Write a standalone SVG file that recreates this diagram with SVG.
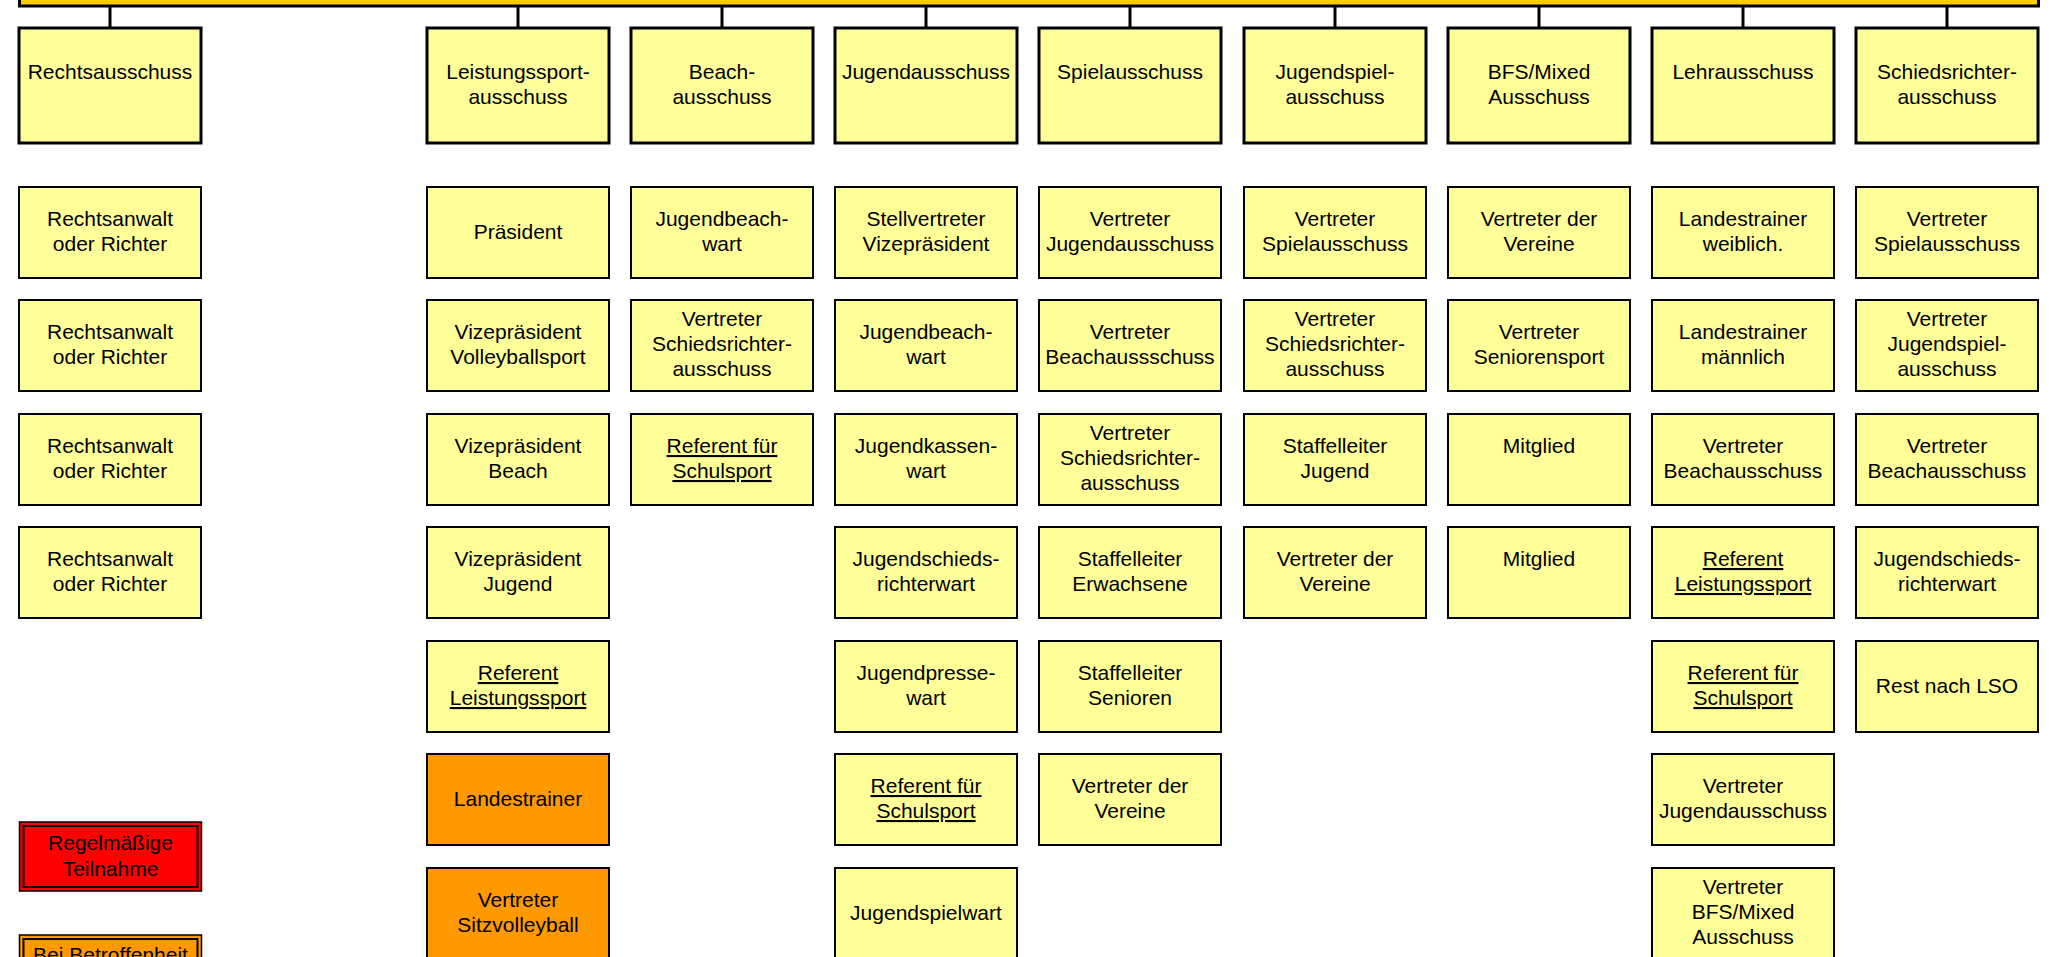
<svg xmlns="http://www.w3.org/2000/svg" width="2062" height="957" viewBox="0 0 2062 957">
<style>
  text { font-family: "Liberation Sans", Arial, sans-serif; font-size: 21px; fill: #000; text-anchor: middle; }
  .hdr { fill: #FFFF99; stroke: #000; stroke-width: 3; }
  .box { fill: #FFFF99; stroke: #000; stroke-width: 2; }
  .org { fill: #FF9900; stroke: #000; stroke-width: 2; }
  .u { text-decoration: underline; }
  .con { stroke: #000; stroke-width: 3; fill: none; }
</style>
<rect width="2062" height="957" fill="#FFFFFF"/>

<g id="top-bar">
  <rect x="19.5" y="-60" width="2019" height="66" fill="#FFCC00" stroke="#000" stroke-width="3"/>
</g>

<g id="connectors">
  <line class="con" x1="110" y1="7" x2="110" y2="28"/>
  <line class="con" x1="518" y1="7" x2="518" y2="28"/>
  <line class="con" x1="722" y1="7" x2="722" y2="28"/>
  <line class="con" x1="926" y1="7" x2="926" y2="28"/>
  <line class="con" x1="1130" y1="7" x2="1130" y2="28"/>
  <line class="con" x1="1335" y1="7" x2="1335" y2="28"/>
  <line class="con" x1="1539" y1="7" x2="1539" y2="28"/>
  <line class="con" x1="1743" y1="7" x2="1743" y2="28"/>
  <line class="con" x1="1947" y1="7" x2="1947" y2="28"/>
</g>

<!-- Header row -->
<g id="h-recht"><rect class="hdr" x="19" y="28" width="182" height="115"/><text x="110" y="79">Rechtsausschuss</text></g>
<g id="h-leistung"><rect class="hdr" x="427" y="28" width="182" height="115"/><text x="518" y="79">Leistungssport-</text><text x="518" y="104">ausschuss</text></g>
<g id="h-beach"><rect class="hdr" x="631" y="28" width="182" height="115"/><text x="722" y="79">Beach-</text><text x="722" y="104">ausschuss</text></g>
<g id="h-jugend"><rect class="hdr" x="835" y="28" width="182" height="115"/><text x="926" y="79">Jugendausschuss</text></g>
<g id="h-spiel"><rect class="hdr" x="1039" y="28" width="182" height="115"/><text x="1130" y="79">Spielausschuss</text></g>
<g id="h-jugendspiel"><rect class="hdr" x="1244" y="28" width="182" height="115"/><text x="1335" y="79">Jugendspiel-</text><text x="1335" y="104">ausschuss</text></g>
<g id="h-bfs"><rect class="hdr" x="1448" y="28" width="182" height="115"/><text x="1539" y="79">BFS/Mixed</text><text x="1539" y="104">Ausschuss</text></g>
<g id="h-lehr"><rect class="hdr" x="1652" y="28" width="182" height="115"/><text x="1743" y="79">Lehrausschuss</text></g>
<g id="h-schieds"><rect class="hdr" x="1856" y="28" width="182" height="115"/><text x="1947" y="79">Schiedsrichter-</text><text x="1947" y="104">ausschuss</text></g>

<!-- Column 0: Rechtsausschuss -->
<g id="c0r1"><rect class="box" x="19" y="187" width="182" height="91"/><text x="110" y="226">Rechtsanwalt</text><text x="110" y="251">oder Richter</text></g>
<g id="c0r2"><rect class="box" x="19" y="300" width="182" height="91"/><text x="110" y="339">Rechtsanwalt</text><text x="110" y="364">oder Richter</text></g>
<g id="c0r3"><rect class="box" x="19" y="414" width="182" height="91"/><text x="110" y="453">Rechtsanwalt</text><text x="110" y="478">oder Richter</text></g>
<g id="c0r4"><rect class="box" x="19" y="527" width="182" height="91"/><text x="110" y="566">Rechtsanwalt</text><text x="110" y="591">oder Richter</text></g>

<!-- Column 1: Leistungssport -->
<g id="c1r1"><rect class="box" x="427" y="187" width="182" height="91"/><text x="518" y="239">Präsident</text></g>
<g id="c1r2"><rect class="box" x="427" y="300" width="182" height="91"/><text x="518" y="339">Vizepräsident</text><text x="518" y="364">Volleyballsport</text></g>
<g id="c1r3"><rect class="box" x="427" y="414" width="182" height="91"/><text x="518" y="453">Vizepräsident</text><text x="518" y="478">Beach</text></g>
<g id="c1r4"><rect class="box" x="427" y="527" width="182" height="91"/><text x="518" y="566">Vizepräsident</text><text x="518" y="591">Jugend</text></g>
<g id="c1r5"><rect class="box" x="427" y="641" width="182" height="91"/><text class="u" x="518" y="680">Referent</text><text class="u" x="518" y="705">Leistungssport</text></g>
<g id="c1r6"><rect class="org" x="427" y="754" width="182" height="91"/><text x="518" y="806">Landestrainer</text></g>
<g id="c1r7"><rect class="org" x="427" y="868" width="182" height="91"/><text x="518" y="907">Vertreter</text><text x="518" y="932">Sitzvolleyball</text></g>

<!-- Column 2: Beach -->
<g id="c2r1"><rect class="box" x="631" y="187" width="182" height="91"/><text x="722" y="226">Jugendbeach-</text><text x="722" y="251">wart</text></g>
<g id="c2r2"><rect class="box" x="631" y="300" width="182" height="91"/><text x="722" y="326">Vertreter</text><text x="722" y="351">Schiedsrichter-</text><text x="722" y="376">ausschuss</text></g>
<g id="c2r3"><rect class="box" x="631" y="414" width="182" height="91"/><text class="u" x="722" y="453">Referent für</text><text class="u" x="722" y="478">Schulsport</text></g>

<!-- Column 3: Jugend -->
<g id="c3r1"><rect class="box" x="835" y="187" width="182" height="91"/><text x="926" y="226">Stellvertreter</text><text x="926" y="251">Vizepräsident</text></g>
<g id="c3r2"><rect class="box" x="835" y="300" width="182" height="91"/><text x="926" y="339">Jugendbeach-</text><text x="926" y="364">wart</text></g>
<g id="c3r3"><rect class="box" x="835" y="414" width="182" height="91"/><text x="926" y="453">Jugendkassen-</text><text x="926" y="478">wart</text></g>
<g id="c3r4"><rect class="box" x="835" y="527" width="182" height="91"/><text x="926" y="566">Jugendschieds-</text><text x="926" y="591">richterwart</text></g>
<g id="c3r5"><rect class="box" x="835" y="641" width="182" height="91"/><text x="926" y="680">Jugendpresse-</text><text x="926" y="705">wart</text></g>
<g id="c3r6"><rect class="box" x="835" y="754" width="182" height="91"/><text class="u" x="926" y="793">Referent für</text><text class="u" x="926" y="818">Schulsport</text></g>
<g id="c3r7"><rect class="box" x="835" y="868" width="182" height="91"/><text x="926" y="920">Jugendspielwart</text></g>

<!-- Column 4: Spiel -->
<g id="c4r1"><rect class="box" x="1039" y="187" width="182" height="91"/><text x="1130" y="226">Vertreter</text><text x="1130" y="251">Jugendausschuss</text></g>
<g id="c4r2"><rect class="box" x="1039" y="300" width="182" height="91"/><text x="1130" y="339">Vertreter</text><text x="1130" y="364">Beachaussschuss</text></g>
<g id="c4r3"><rect class="box" x="1039" y="414" width="182" height="91"/><text x="1130" y="440">Vertreter</text><text x="1130" y="465">Schiedsrichter-</text><text x="1130" y="490">ausschuss</text></g>
<g id="c4r4"><rect class="box" x="1039" y="527" width="182" height="91"/><text x="1130" y="566">Staffelleiter</text><text x="1130" y="591">Erwachsene</text></g>
<g id="c4r5"><rect class="box" x="1039" y="641" width="182" height="91"/><text x="1130" y="680">Staffelleiter</text><text x="1130" y="705">Senioren</text></g>
<g id="c4r6"><rect class="box" x="1039" y="754" width="182" height="91"/><text x="1130" y="793">Vertreter der</text><text x="1130" y="818">Vereine</text></g>

<!-- Column 5: Jugendspiel -->
<g id="c5r1"><rect class="box" x="1244" y="187" width="182" height="91"/><text x="1335" y="226">Vertreter</text><text x="1335" y="251">Spielausschuss</text></g>
<g id="c5r2"><rect class="box" x="1244" y="300" width="182" height="91"/><text x="1335" y="326">Vertreter</text><text x="1335" y="351">Schiedsrichter-</text><text x="1335" y="376">ausschuss</text></g>
<g id="c5r3"><rect class="box" x="1244" y="414" width="182" height="91"/><text x="1335" y="453">Staffelleiter</text><text x="1335" y="478">Jugend</text></g>
<g id="c5r4"><rect class="box" x="1244" y="527" width="182" height="91"/><text x="1335" y="566">Vertreter der</text><text x="1335" y="591">Vereine</text></g>

<!-- Column 6: BFS/Mixed -->
<g id="c6r1"><rect class="box" x="1448" y="187" width="182" height="91"/><text x="1539" y="226">Vertreter der</text><text x="1539" y="251">Vereine</text></g>
<g id="c6r2"><rect class="box" x="1448" y="300" width="182" height="91"/><text x="1539" y="339">Vertreter</text><text x="1539" y="364">Seniorensport</text></g>
<g id="c6r3"><rect class="box" x="1448" y="414" width="182" height="91"/><text x="1539" y="453">Mitglied</text></g>
<g id="c6r4"><rect class="box" x="1448" y="527" width="182" height="91"/><text x="1539" y="566">Mitglied</text></g>

<!-- Column 7: Lehr -->
<g id="c7r1"><rect class="box" x="1652" y="187" width="182" height="91"/><text x="1743" y="226">Landestrainer</text><text x="1743" y="251">weiblich.</text></g>
<g id="c7r2"><rect class="box" x="1652" y="300" width="182" height="91"/><text x="1743" y="339">Landestrainer</text><text x="1743" y="364">männlich</text></g>
<g id="c7r3"><rect class="box" x="1652" y="414" width="182" height="91"/><text x="1743" y="453">Vertreter</text><text x="1743" y="478">Beachausschuss</text></g>
<g id="c7r4"><rect class="box" x="1652" y="527" width="182" height="91"/><text class="u" x="1743" y="566">Referent</text><text class="u" x="1743" y="591">Leistungssport</text></g>
<g id="c7r5"><rect class="box" x="1652" y="641" width="182" height="91"/><text class="u" x="1743" y="680">Referent für</text><text class="u" x="1743" y="705">Schulsport</text></g>
<g id="c7r6"><rect class="box" x="1652" y="754" width="182" height="91"/><text x="1743" y="793">Vertreter</text><text x="1743" y="818">Jugendausschuss</text></g>
<g id="c7r7"><rect class="box" x="1652" y="868" width="182" height="91"/><text x="1743" y="894">Vertreter</text><text x="1743" y="919">BFS/Mixed</text><text x="1743" y="944">Ausschuss</text></g>

<!-- Column 8: Schiedsrichter -->
<g id="c8r1"><rect class="box" x="1856" y="187" width="182" height="91"/><text x="1947" y="226">Vertreter</text><text x="1947" y="251">Spielausschuss</text></g>
<g id="c8r2"><rect class="box" x="1856" y="300" width="182" height="91"/><text x="1947" y="326">Vertreter</text><text x="1947" y="351">Jugendspiel-</text><text x="1947" y="376">ausschuss</text></g>
<g id="c8r3"><rect class="box" x="1856" y="414" width="182" height="91"/><text x="1947" y="453">Vertreter</text><text x="1947" y="478">Beachausschuss</text></g>
<g id="c8r4"><rect class="box" x="1856" y="527" width="182" height="91"/><text x="1947" y="566">Jugendschieds-</text><text x="1947" y="591">richterwart</text></g>
<g id="c8r5"><rect class="box" x="1856" y="641" width="182" height="91"/><text x="1947" y="693">Rest nach LSO</text></g>

<!-- Legend -->
<g id="legend-regular">
  <rect x="19.5" y="822" width="182" height="69" fill="#FF0000" stroke="#000" stroke-width="1.5"/>
  <rect x="23.5" y="826" width="174" height="61" fill="none" stroke="#000" stroke-width="2"/>
  <text x="110.5" y="850">Regelmäßige</text><text x="110.5" y="876">Teilnahme</text>
</g>
<g id="legend-affected">
  <rect x="19.5" y="935" width="182" height="69" fill="#FF9900" stroke="#000" stroke-width="1.5"/>
  <rect x="23.5" y="939" width="174" height="61" fill="none" stroke="#000" stroke-width="2"/>
  <text x="110.5" y="962">Bei Betroffenheit</text>
</g>
</svg>
